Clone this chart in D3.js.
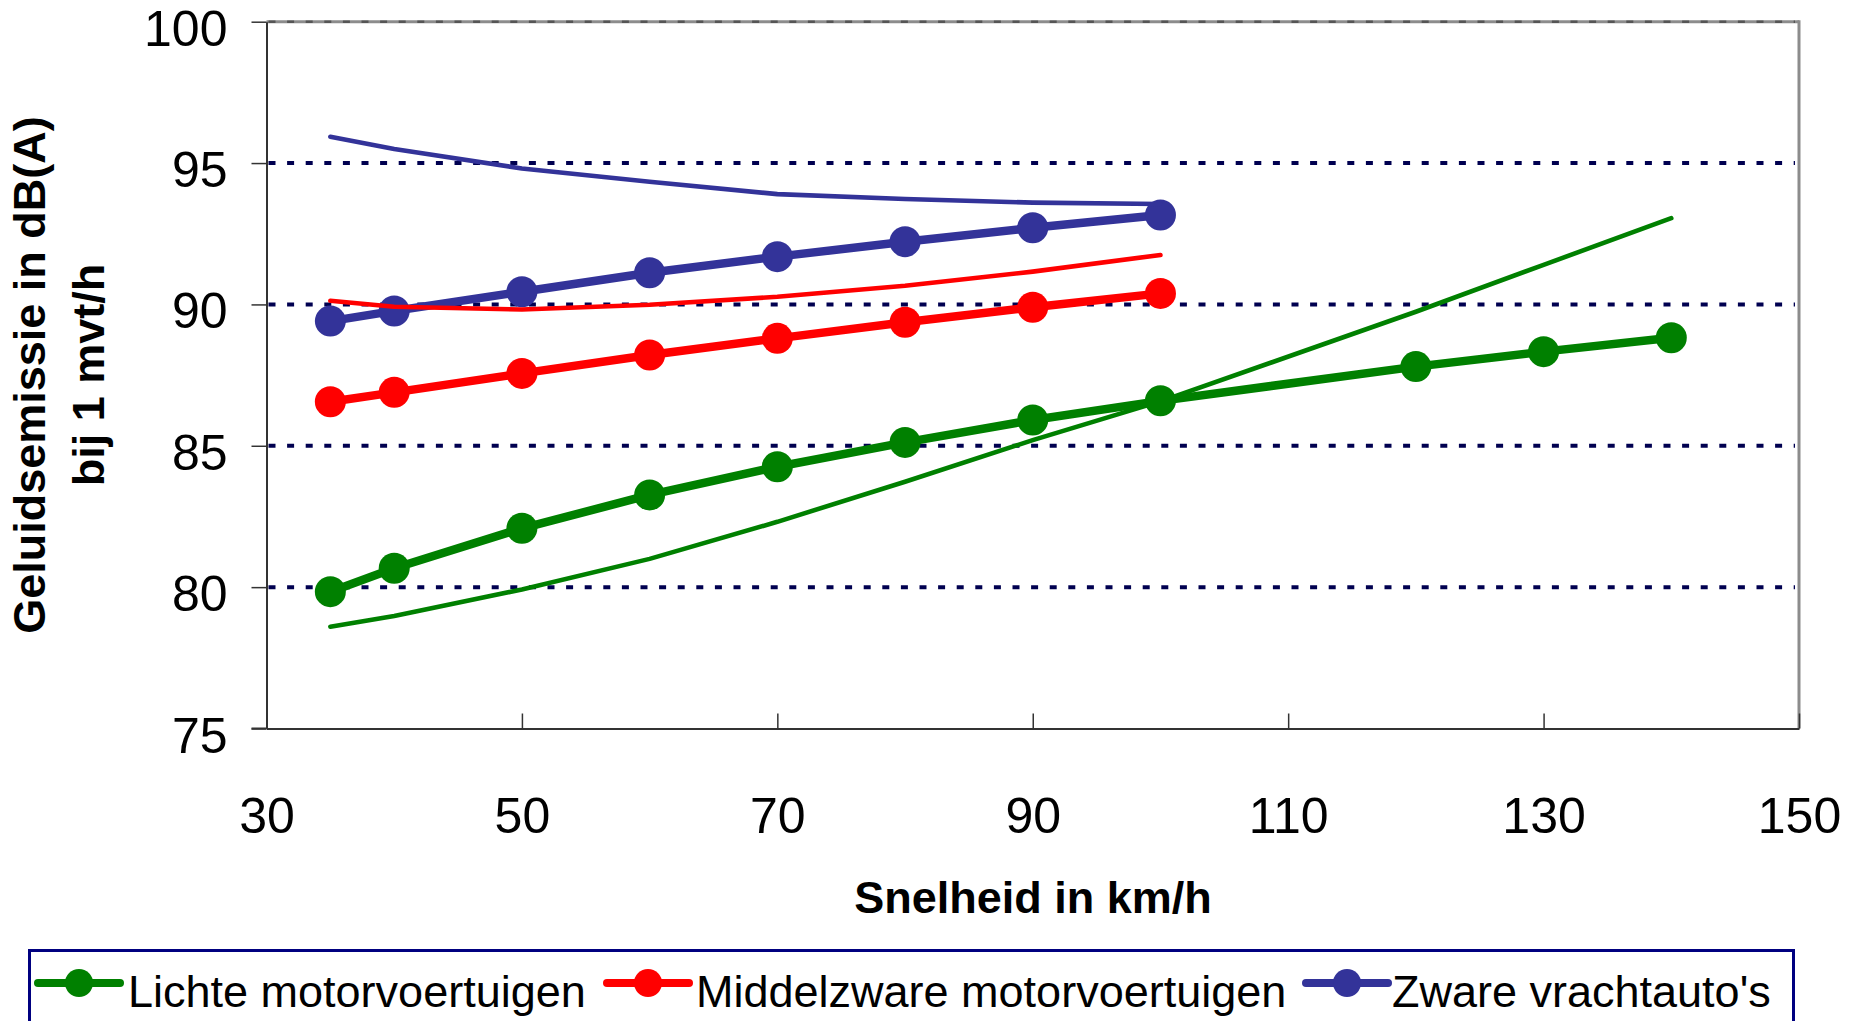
<html>
<head>
<meta charset="utf-8">
<script src="https://d3js.org/d3.v7.min.js"></script>
<style>
  body { margin: 0; background: #fff; }
  text { font-family: "Liberation Sans", Arial, sans-serif; }
</style>
</head>
<body>
<svg width="1856" height="1021"></svg>
<script>
// snelheden (km/h)
var speedLicht = [35, 40, 50, 60, 70, 80, 90, 100, 120, 130, 140];
var speedZwaar = [35, 40, 50, 60, 70, 80, 90, 100];

// gemeten emissie (dik, met markers)
var lichtMeting  = [79.84, 80.67, 82.08, 83.26, 84.26, 85.12, 85.91, 86.59, 87.8, 88.33, 88.82];
var middelMeting = [86.56, 86.89, 87.56, 88.21, 88.8, 89.37, 89.9, 90.39];
var zwaarMeting  = [89.41, 89.77, 90.45, 91.12, 91.69, 92.22, 92.71, 93.16];

// model (dunne lijnen)
var lichtModel  = [78.6, 78.98, 79.92, 81.0, 82.31, 83.73, 85.2, 86.57, 89.74, 91.4, 93.05];
var middelModel = [90.13, 89.92, 89.82, 89.99, 90.27, 90.66, 91.16, 91.75];
var zwaarModel  = [95.93, 95.5, 94.81, 94.34, 93.9, 93.73, 93.6, 93.55];

var xTicks = [30, 50, 70, 90, 110, 130, 150];
var yTicks = [75, 80, 85, 90, 95, 100];
var legendNames = ["Lichte motorvoertuigen", "Middelzware motorvoertuigen", "Zware vrachtauto's"];
var colors = ["#008000", "#ff0000", "#333399"];

var svg = d3.select("svg");
svg.append("rect").attr("width", 1856).attr("height", 1021).attr("fill", "#fff");

var pLeft = 266.5, pRight = 1799, pTop = 21.7, pBottom = 728.5;

var x = d3.scaleLinear().domain([30, 150]).range([pLeft, pRight]);
var y = d3.scaleLinear().domain([75, 100]).range([pBottom, pTop]);

// gridlines
svg.append("g").selectAll("line")
  .data(yTicks.filter(function(d) { return d > 75 && d < 100; }))
  .enter().append("line")
  .attr("x1", pLeft + 2).attr("x2", pRight - 4)
  .attr("y1", function(d) { return y(d); })
  .attr("y2", function(d) { return y(d); })
  .attr("stroke", "#000050")
  .attr("stroke-width", 4)
  .attr("stroke-dasharray", "7,11.6");

// plot border (top and right in grey)
svg.append("line").attr("x1", pLeft).attr("x2", pRight).attr("y1", y(100)).attr("y2", y(100))
  .attr("stroke", "#8c8c8c").attr("stroke-width", 3);
svg.append("line").attr("x1", pLeft + 2).attr("x2", pRight - 4).attr("y1", y(100)).attr("y2", y(100))
  .attr("stroke", "#555").attr("stroke-width", 2.5).attr("stroke-dasharray", "7,11.6");
svg.append("line").attr("x1", pRight).attr("x2", pRight).attr("y1", y(100) - 1.5).attr("y2", pBottom)
  .attr("stroke", "#8c8c8c").attr("stroke-width", 3);

// axes
var yAxis = svg.append("g")
  .attr("transform", "translate(" + pLeft + ",0)")
  .call(d3.axisLeft(y).tickValues(yTicks).tickSizeInner(15).tickSizeOuter(0).tickPadding(24));
yAxis.select(".domain").attr("stroke", "#333").attr("stroke-width", 2);
yAxis.selectAll(".tick line").attr("stroke", "#333").attr("stroke-width", 1.5);
yAxis.selectAll("text").attr("font-size", 50).attr("dy", "0.47em").attr("fill", "#000")
  .style("font-family", "'Liberation Sans', Arial, sans-serif");

var xAxis = svg.append("g")
  .attr("transform", "translate(0," + pBottom + ")")
  .call(d3.axisBottom(x).tickValues(xTicks).tickSizeInner(-15).tickSizeOuter(0).tickPadding(69));
xAxis.select(".domain").attr("stroke", "#333").attr("stroke-width", 2);
xAxis.selectAll(".tick line").attr("stroke", "#333").attr("stroke-width", 1.5);
xAxis.selectAll("text").attr("font-size", 50).attr("fill", "#000")
  .style("font-family", "'Liberation Sans', Arial, sans-serif");
// left extension of bottom axis up to the 75 tick
svg.append("line").attr("x1", pLeft - 15).attr("x2", pLeft).attr("y1", pBottom).attr("y2", pBottom)
  .attr("stroke", "#333").attr("stroke-width", 2);

// axis titles
svg.append("text")
  .attr("x", 1033).attr("y", 913)
  .attr("text-anchor", "middle")
  .attr("font-size", 45).attr("font-weight", "bold")
  .text("Snelheid in km/h");

var yt = svg.append("text")
  .attr("transform", "translate(45,375) rotate(-90)")
  .attr("text-anchor", "middle")
  .attr("font-size", 45).attr("font-weight", "bold");
yt.append("tspan").attr("x", 0).attr("y", 0).text("Geluidsemissie in dB(A)");
yt.append("tspan").attr("x", 0).attr("y", 59).text("bij 1 mvt/h");

// series
var line = d3.line()
  .x(function(d) { return x(d[0]); })
  .y(function(d) { return y(d[1]); });

var thin = [
  { s: speedLicht, v: lichtModel, c: colors[0] },
  { s: speedZwaar, v: middelModel, c: colors[1] },
  { s: speedZwaar, v: zwaarModel, c: colors[2] }
];
var thick = [
  { s: speedLicht, v: lichtMeting, c: colors[0] },
  { s: speedZwaar, v: middelMeting, c: colors[1] },
  { s: speedZwaar, v: zwaarMeting, c: colors[2] }
];

thick.forEach(function(ser) {
  var pts = d3.zip(ser.s, ser.v);
  svg.append("path").datum(pts)
    .attr("d", line).attr("fill", "none")
    .attr("stroke", ser.c).attr("stroke-width", 8.5).attr("stroke-linejoin", "round");
  svg.append("g").selectAll("circle").data(pts).enter().append("circle")
    .attr("cx", function(d) { return x(d[0]); })
    .attr("cy", function(d) { return y(d[1]); })
    .attr("r", 15.5).attr("fill", ser.c);
});

thin.forEach(function(ser) {
  var pts = d3.zip(ser.s, ser.v);
  svg.append("path").datum(pts)
    .attr("d", line).attr("fill", "none")
    .attr("stroke", ser.c).attr("stroke-width", 4.6)
    .attr("stroke-linejoin", "round").attr("stroke-linecap", "round");
});

// legend
svg.append("rect")
  .attr("x", 29.5).attr("y", 950.5).attr("width", 1764).attr("height", 120)
  .attr("fill", "#fff").attr("stroke", "#000080").attr("stroke-width", 3);

var legX = [38, 607, 1306];
var txtX = [128, 696, 1392];
legendNames.forEach(function(name, i) {
  svg.append("line")
    .attr("x1", legX[i]).attr("x2", legX[i] + 82)
    .attr("y1", 983).attr("y2", 983)
    .attr("stroke", colors[i]).attr("stroke-width", 8).attr("stroke-linecap", "round");
  svg.append("circle").attr("cx", legX[i] + 41).attr("cy", 983).attr("r", 14).attr("fill", colors[i]);
  svg.append("text")
    .attr("x", txtX[i]).attr("y", 1007)
    .attr("font-size", 45)
    .text(name);
});
</script>
</body>
</html>
